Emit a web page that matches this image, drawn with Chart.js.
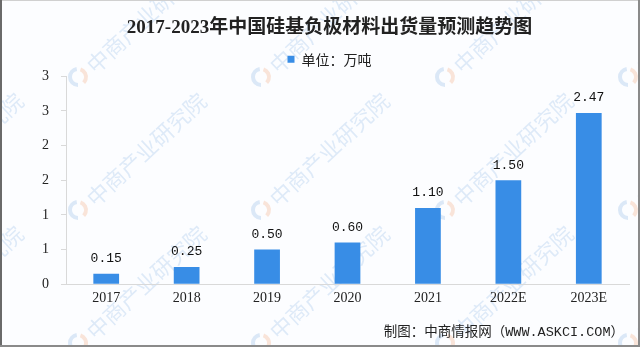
<!DOCTYPE html>
<html>
<head>
<meta charset="utf-8">
<script src="https://cdn.jsdelivr.net/npm/chart.js@4.4.0/dist/chart.umd.min.js"></script>
<style>
  html, body { margin: 0; padding: 0; background: #fff; }
  #wrap { width: 640px; height: 347px; }
</style>
</head>
<body>
<div id="wrap"><canvas id="chartCanvas" width="640" height="347"></canvas></div>
<script>
const years = ['2017', '2018', '2019', '2020', '2021', '2022E', '2023E'];
const shipments = [0.15, 0.25, 0.50, 0.60, 1.10, 1.50, 2.47];
const yTickLabels = ['0', '1', '1', '2', '2', '3', '3'];
const seriesName = '单位：万吨';
const chartTitle = '2017-2023年中国硅基负极材料出货量预测趋势图';
const sourceNote = '制图：中商情报网（WWW.ASKCI.COM）';

const BAR_BLUE = '#388de6';
const CJK = '"Noto Sans CJK SC"';

// faint repeated logo + name behind the chart, plus the page background
const watermark = {
  id: 'watermark',
  beforeDraw(chart) {
    const ctx = chart.ctx;
    ctx.save();
    ctx.fillStyle = '#fcfdff';
    ctx.fillRect(0, 0, chart.width, chart.height);
    for (const y0 of [77, 210, 343]) {
      for (const x0 of [-105, 78, 261, 445, 628]) {
        ctx.lineWidth = 4;
        ctx.strokeStyle = 'rgba(90,150,215,0.2)';
        ctx.beginPath(); ctx.arc(x0, y0, 8, Math.PI * 0.5, Math.PI * 1.45); ctx.stroke();
        ctx.strokeStyle = 'rgba(240,140,80,0.22)';
        ctx.beginPath(); ctx.arc(x0, y0, 8, -Math.PI * 0.4, Math.PI * 0.25); ctx.stroke();
        ctx.save();
        ctx.translate(x0 + 12, y0 - 8);
        ctx.rotate(-0.75);
        ctx.font = '22px ' + CJK;
        ctx.fillStyle = 'rgba(90,150,215,0.18)';
        ctx.textBaseline = 'middle';
        ctx.fillText('中商产业研究院', 0, 0);
        ctx.restore();
      }
    }
    ctx.restore();
  }
};

// value above every bar
const valueLabels = {
  id: 'valueLabels',
  afterDatasetsDraw(chart) {
    const ctx = chart.ctx;
    const meta = chart.getDatasetMeta(0);
    ctx.save();
    ctx.font = '13px "Liberation Mono"';
    ctx.fillStyle = '#111';
    ctx.textAlign = 'center';
    ctx.textBaseline = 'middle';
    meta.data.forEach((bar, i) => {
      ctx.fillText(shipments[i].toFixed(2), bar.x, bar.y - 15);
    });
    ctx.restore();
  }
};

// source line bottom right and the frame
const footer = {
  id: 'footer',
  afterDraw(chart) {
    const ctx = chart.ctx;
    ctx.save();
    ctx.font = '13.5px "Liberation Mono", ' + CJK;
    ctx.fillStyle = '#222';
    ctx.textAlign = 'right';
    ctx.textBaseline = 'middle';
    ctx.fillText(sourceNote, 624, 332);

    ctx.strokeStyle = '#d0d0d0';
    ctx.lineWidth = 1;
    ctx.beginPath(); ctx.moveTo(0, 0.5); ctx.lineTo(640, 0.5); ctx.stroke();
    ctx.strokeStyle = '#6a6a6a';
    ctx.lineWidth = 2;
    ctx.beginPath(); ctx.moveTo(1, 0); ctx.lineTo(1, 347); ctx.stroke();
    ctx.strokeStyle = '#8a8a8a';
    ctx.beginPath(); ctx.moveTo(0, 346); ctx.lineTo(640, 346); ctx.stroke();
    ctx.beginPath(); ctx.moveTo(639, 0); ctx.lineTo(639, 347); ctx.stroke();
    ctx.restore();
  }
};

const ctx = document.getElementById('chartCanvas').getContext('2d');
const chart = new Chart(ctx, {
  type: 'bar',
  data: {
    labels: years,
    datasets: [{
      label: seriesName,
      data: shipments,
      backgroundColor: BAR_BLUE,
      barPercentage: 0.32,
      categoryPercentage: 1
    }]
  },
  options: {
    responsive: false,
    animation: false,
    layout: { padding: { left: 30, right: 11, top: 0, bottom: 34 } },
    plugins: {
      title: {
        display: true,
        text: chartTitle,
        color: '#222',
        font: { family: '"Liberation Serif", ' + CJK, size: 19, weight: 'bold' },
        padding: { top: 17, bottom: 0 }
      },
      legend: {
        display: true,
        labels: {
          color: '#222',
          boxWidth: 7,
          boxHeight: 7,
          padding: 12.5,
          font: { family: CJK, size: 14 }
        }
      },
      tooltip: { enabled: false }
    },
    scales: {
      x: {
        grid: { display: true, drawOnChartArea: false, drawTicks: false, color: '#d9d9d9' },
        border: { color: '#d9d9d9' },
        ticks: { color: '#222', padding: 6, font: { family: '"Liberation Serif"', size: 14 } }
      },
      y: {
        min: 0,
        max: 3,
        afterFit: (scale) => { scale.width = 36; },
        grid: { display: true, drawOnChartArea: false, tickLength: 5, color: '#d9d9d9' },
        border: { color: '#d9d9d9' },
        ticks: {
          stepSize: 0.5,
          color: '#222',
          padding: 12,
          font: { family: '"Liberation Serif"', size: 14 },
          callback: (v, i) => yTickLabels[i]
        }
      }
    }
  },
  plugins: [watermark, valueLabels, footer]
});
</script>
</body>
</html>
